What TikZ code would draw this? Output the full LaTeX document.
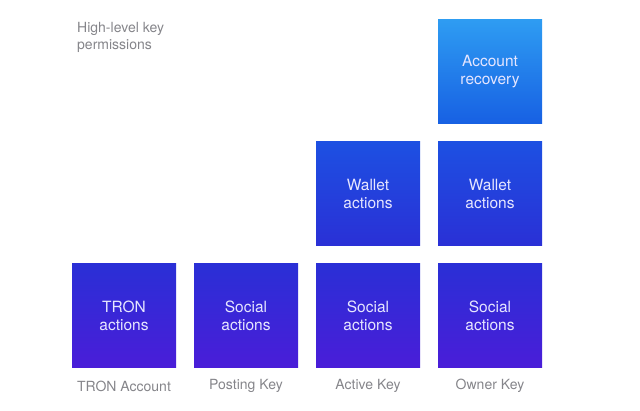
\documentclass[tikz,border=0pt]{standalone}
\usepackage{fontspec}
\setmainfont{TeX Gyre Heros}
\definecolor{ctop}{HTML}{2E9CF2}
\definecolor{cup}{HTML}{1760E3}
\definecolor{cmid}{HTML}{1D50E2}
\definecolor{cmidb}{HTML}{2A30D6}
\definecolor{cbot}{HTML}{2A2FD6}
\definecolor{cbotb}{HTML}{4A1DD8}
\definecolor{labgray}{HTML}{85858A}
\definecolor{boxtext}{HTML}{E6E6FF}
\tikzset{
  keybox/.style={minimum width=104pt, minimum height=104pt, inner sep=0pt,
    text=boxtext, font=\fontsize{15.5}{18}\selectfont, align=center},
  toprow/.style={keybox, top color=ctop, bottom color=cup},
  midrow/.style={keybox, top color=cmid, bottom color=cmidb},
  botrow/.style={keybox, top color=cbot, bottom color=cbotb},
  keylabel/.style={text=labgray, font=\fontsize{14}{16}\selectfont},
}
\begin{document}
\begin{tikzpicture}[x=1pt,y=-1pt]
\useasboundingbox (0,0) rectangle (640,411);
\node[botrow] (tron) at (124,316) {TRON\\actions};
\node[botrow] (post) at (246,316) {Social\\actions};
\node[botrow] (act) at (368,316) {Social\\actions};
\node[botrow] (own) at (490,316) {Social\\actions};
\node[midrow] (actw) at (368,194) {Wallet\\actions};
\node[midrow] (ownw) at (490,194) {Wallet\\actions};
\node[toprow] (ownr) at (490,72) {Account\\recovery};
\node[keylabel] (l1) at (124,386) {TRON Account};
\node[keylabel] (l2) at (246,386) {Posting Key};
\node[keylabel] (l3) at (368,386) {Active Key};
\node[keylabel] (l4) at (490,386) {Owner Key};
\node[keylabel, anchor=north west, align=left, inner sep=0pt, font=\fontsize{14}{17}\selectfont] (title) at (77,22) {High-level key\\permissions};
\end{tikzpicture}
\end{document}
